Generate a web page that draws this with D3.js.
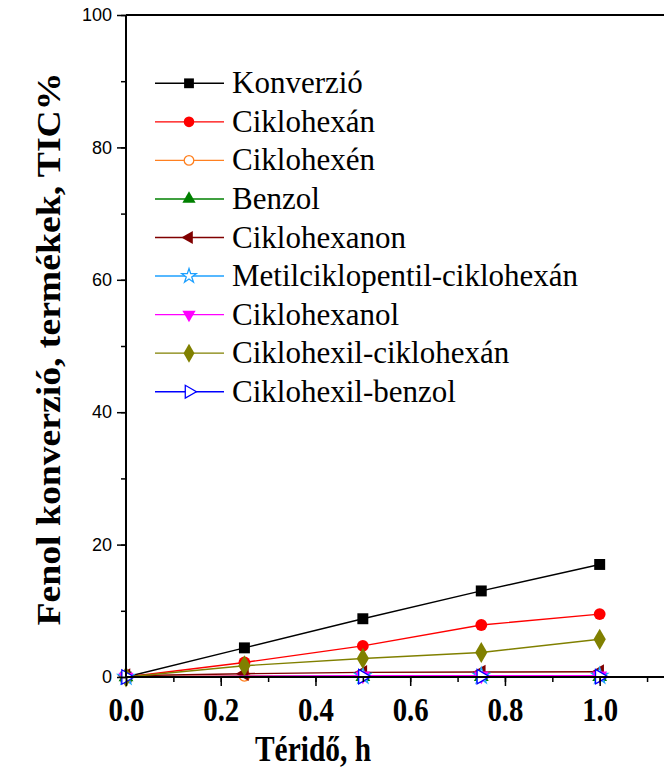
<!DOCTYPE html>
<html>
<head>
<meta charset="utf-8">
<script src="https://cdn.jsdelivr.net/npm/d3@7"></script>
<style>
  body { margin: 0; background: #fff; }
  svg { display: block; }
</style>
</head>
<body>
<svg width="664" height="772"></svg>
<script>
const times = [0, 0.25, 0.5, 0.75, 1.0];

const konverzio = [0, 4.4, 8.8, 13.0, 17.0];
const ciklohexan = [0, 2.2, 4.7, 7.85, 9.5];
const ciklohexen = [0, 0.2, 0.2, null, null];
const benzol = [0, null, 0.05, 0.05, 0.05];
const ciklohexanon = [0.2, 0.5, 0.7, 0.75, 0.8];
const metilciklopentil = [0, null, 0.15, 0.15, 0.15];
const ciklohexanol = [0, null, 0.2, 0.2, 0.2];
const ciklohexilCiklohexan = [0, 1.7, 2.8, 3.7, 5.7];
const ciklohexilBenzol = [0, null, 0.05, 0.05, 0.05];

const xTicks = [0, 0.2, 0.4, 0.6, 0.8, 1.0];
const yTicks = [0, 20, 40, 60, 80, 100];

const series = [
  { name: 'Konverzió', values: konverzio, color: '#000000', symbol: d3.symbolSquare, size: 120, open: false },
  { name: 'Ciklohexán', values: ciklohexan, color: '#ff0000', symbol: d3.symbolCircle, size: 110, open: false },
  { name: 'Ciklohexén', values: ciklohexen, color: '#ff8020', symbol: d3.symbolCircle, size: 90, open: true },
  { name: 'Benzol', values: benzol, color: '#008000', symbol: d3.symbolTriangle, size: 95, open: false },
  { name: 'Ciklohexanon', values: ciklohexanon, color: '#800000', symbol: 'left', size: 95, open: false },
  { name: 'Metilciklopentil-ciklohexán', values: metilciklopentil, color: '#1ea0ff', symbol: d3.symbolStar, size: 80, open: true },
  { name: 'Ciklohexanol', values: ciklohexanol, color: '#ff00ff', symbol: 'down', size: 95, open: false },
  { name: 'Ciklohexil-ciklohexán', values: ciklohexilCiklohexan, color: '#808000', symbol: d3.symbolDiamond, size: 130, open: false },
  { name: 'Ciklohexil-benzol', values: ciklohexilBenzol, color: '#0000ff', symbol: 'right', size: 90, open: true }
];

const svg = d3.select('svg');

const x = d3.scaleLinear().domain([0, 1.14]).range([126, 666]);
const y = d3.scaleLinear().domain([0, 100]).range([677, 15]);

// triangle pointing in a direction
function symbolPath(s, scale) {
  const size = s.size * scale;
  if (s.symbol === 'left' || s.symbol === 'down' || s.symbol === 'right') {
    const rot = s.symbol === 'left' ? -90 : s.symbol === 'down' ? 180 : 90;
    return { d: d3.symbol(d3.symbolTriangle, size)(), rot: rot };
  }
  return { d: d3.symbol(s.symbol, size)(), rot: 0 };
}

const plot = svg.append('g');

const line = d3.line()
  .defined(d => d.v != null)
  .x(d => x(d.t))
  .y(d => y(d.v));

series.forEach(s => {
  const pts = times.map((t, i) => ({ t: t, v: s.values[i] })).filter(d => d.v != null);
  plot.append('path')
    .datum(pts)
    .attr('fill', 'none')
    .attr('stroke', s.color)
    .attr('stroke-width', 1.4)
    .attr('d', line);
  const sp = symbolPath(s, 1);
  plot.selectAll(null)
    .data(pts)
    .enter().append('path')
    .attr('d', sp.d)
    .attr('transform', d => `translate(${x(d.t)},${y(d.v)}) rotate(${sp.rot})`)
    .attr('fill', s.open ? '#fff' : s.color)
    .attr('stroke', s.color)
    .attr('stroke-width', s.open ? 1.3 : 0);
});

// axes
const xAxis = svg.append('g')
  .attr('transform', 'translate(0,677)')
  .call(d3.axisBottom(x).tickValues(d3.range(0, 1.15, 0.1)).tickSize(5).tickFormat(''));
xAxis.selectAll('.tick line').attr('stroke-width', 1.5);
svg.append('g')
  .attr('transform', 'translate(0,677)')
  .call(d3.axisBottom(x).tickValues(xTicks).tickSize(9).tickFormat(d3.format('.1f')))
  .call(g => g.select('.domain').remove())
  .call(g => g.selectAll('.tick line').attr('stroke-width', 1.5))
  .call(g => g.selectAll('.tick text')
    .attr('font-family', '"Liberation Serif", "Times New Roman", serif')
    .attr('font-weight', 'bold')
    .attr('font-size', 33)
    .attr('y', 21)
    .attr('textLength', 36)
    .attr('lengthAdjust', 'spacingAndGlyphs')
    .attr('fill', '#000'));
xAxis.select('.domain').attr('stroke-width', 2).attr('d', 'M126,0H666');

svg.append('g')
  .attr('transform', 'translate(126,0)')
  .call(d3.axisLeft(y).tickValues(d3.range(0, 101, 10)).tickSize(5).tickFormat(''))
  .call(g => g.select('.domain').remove())
  .call(g => g.selectAll('.tick line').attr('stroke-width', 1.5));
svg.append('g')
  .attr('transform', 'translate(126,0)')
  .call(d3.axisLeft(y).tickValues(yTicks).tickSize(9).tickPadding(5))
  .call(g => g.select('.domain').attr('stroke-width', 2).attr('d', 'M0,15V677'))
  .call(g => g.selectAll('.tick line').attr('stroke-width', 1.5))
  .call(g => g.selectAll('.tick text')
    .attr('font-family', '"Liberation Sans", Arial, sans-serif')
    .attr('font-size', 18)
    .attr('fill', '#000'));

// top frame
svg.append('line')
  .attr('x1', 126).attr('x2', 666)
  .attr('y1', y(100)).attr('y2', y(100))
  .attr('stroke', '#000').attr('stroke-width', 2);

// axis titles
svg.append('text')
  .attr('x', 313).attr('y', 761)
  .attr('text-anchor', 'middle')
  .attr('font-family', '"Liberation Serif", "Times New Roman", serif')
  .attr('font-weight', 'bold')
  .attr('font-size', 36)
  .attr('textLength', 116)
  .attr('lengthAdjust', 'spacingAndGlyphs')
  .text('Téridő, h');

svg.append('text')
  .attr('transform', 'translate(60,349) rotate(-90)')
  .attr('text-anchor', 'middle')
  .attr('font-family', '"Liberation Serif", "Times New Roman", serif')
  .attr('font-weight', 'bold')
  .attr('font-size', 34)
  .attr('textLength', 553)
  .attr('lengthAdjust', 'spacingAndGlyphs')
  .text('Fenol konverzió, termékek, TIC%');

// legend
const legend = svg.append('g');
series.forEach((s, i) => {
  const cy = 83.3 + i * 38.55;
  legend.append('line')
    .attr('x1', 155).attr('x2', 224)
    .attr('y1', cy).attr('y2', cy)
    .attr('stroke', s.color).attr('stroke-width', 1.4);
  const sp = symbolPath(s, 0.8);
  legend.append('path')
    .attr('d', sp.d)
    .attr('transform', `translate(189,${cy}) rotate(${sp.rot})`)
    .attr('fill', s.open ? '#fff' : s.color)
    .attr('stroke', s.color)
    .attr('stroke-width', s.open ? 1.3 : 0);
  legend.append('text')
    .attr('x', 232).attr('y', cy + 10)
    .attr('font-family', '"Liberation Serif", "Times New Roman", serif')
    .attr('font-size', 31)
    .text(s.name);
});
</script>
</body>
</html>
